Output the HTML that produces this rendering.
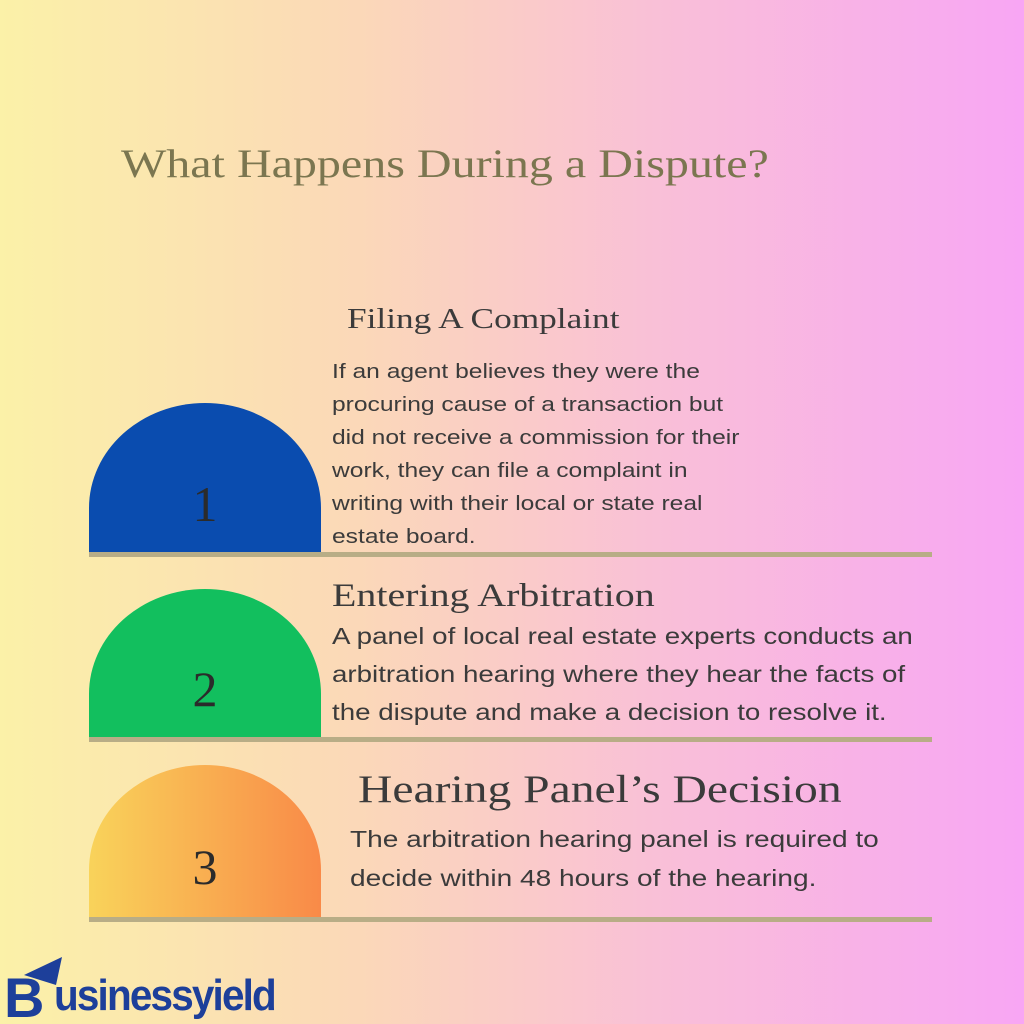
<!DOCTYPE html>
<html><head><style>
body{margin:0;width:1024px;height:1024px;overflow:hidden;position:relative;
background:linear-gradient(90deg,#fbf1a8 0%,#fbd8b8 35%,#f9bfd8 65%,#f8a6f4 100%);
font-family:"Liberation Sans",sans-serif;}
.a{position:absolute;transform-origin:left top;white-space:nowrap;}
.serif{font-family:"Liberation Serif",serif;}
.shape{position:absolute;left:89px;width:232px;border-radius:116px 116px 0 0/105px 105px 0 0;}
.line{position:absolute;left:89px;width:843px;height:5px;background:#b8ad86;}
.num{position:absolute;left:89px;width:232px;text-align:center;font-family:"Liberation Serif",serif;color:#2b2b2b;font-size:50px;}
.t{color:#3b3b3b;}
</style></head><body>
<div class="a serif" style="left:121px;top:140px;font-size:40px;color:#7b7650;transform:scaleX(1.2)">What Happens During a Dispute?</div>

<div class="shape" style="top:403px;height:150px;background:#0a4caf"></div>
<div class="num" style="top:475px">1</div>
<div class="line" style="top:552px"></div>
<div class="a serif t" style="left:347px;top:304px;font-size:28px;transform:scaleX(1.26)">Filing A Complaint</div>
<div class="a t" style="left:332px;top:355px;font-size:20.5px;line-height:33px;transform:scaleX(1.2)">If an agent believes they were the<br>procuring cause of a transaction but<br>did not receive a commission for their<br>work, they can file a complaint in<br>writing with their local or state real<br>estate board.</div>

<div class="shape" style="top:589px;height:149px;background:#12bf5e"></div>
<div class="num" style="top:660px">2</div>
<div class="line" style="top:737px"></div>
<div class="a serif t" style="left:332px;top:578px;font-size:33px;transform:scaleX(1.21)">Entering Arbitration</div>
<div class="a t" style="left:332px;top:617px;font-size:23px;line-height:38px;transform:scaleX(1.205)">A panel of local real estate experts conducts an<br>arbitration hearing where they hear the facts of<br>the dispute and make a decision to resolve it.</div>

<div class="shape" style="top:765px;height:152px;background:linear-gradient(90deg,#f9d35a,#f98a48)"></div>
<div class="num" style="top:838px">3</div>
<div class="line" style="top:917px"></div>
<div class="a serif t" style="left:358px;top:767px;font-size:39px;transform:scaleX(1.22)">Hearing Panel’s Decision</div>
<div class="a t" style="left:350px;top:820px;font-size:23px;line-height:39px;transform:scaleX(1.22)">The arbitration hearing panel is required to<br>decide within 48 hours of the hearing.</div>

<svg class="a" style="left:4px;top:955px" width="60" height="65"><path d="M20 20 L58 2 L52 30 Z" fill="#1d3f9a"/><text x="0" y="62" font-family="Liberation Sans" font-weight="bold" font-size="56" fill="#1d3f9a">B</text></svg>
<div class="a" style="left:54px;top:971px;font-size:44px;font-weight:bold;color:#1d3f9a;letter-spacing:-2px;transform:scaleX(0.92)">usinessyield</div>
</body></html>
